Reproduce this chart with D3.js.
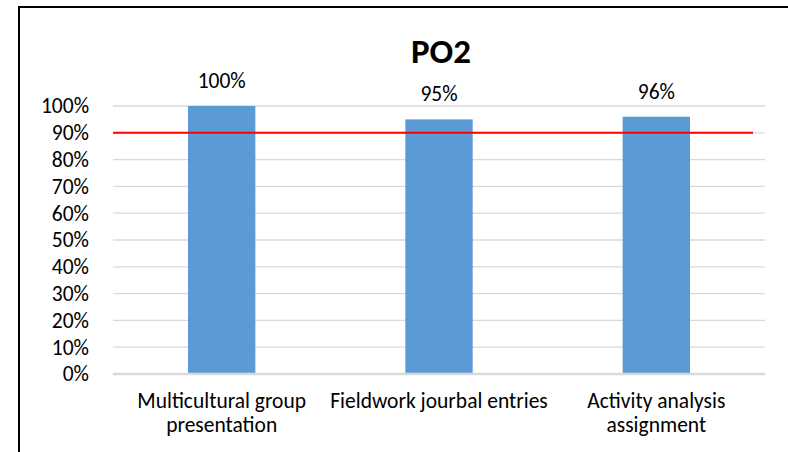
<!DOCTYPE html>
<html>
<head>
<meta charset="utf-8">
<script src="https://cdn.jsdelivr.net/npm/d3@7"></script>
<style>
  body { margin: 0; background: #fff; }
  text { font-family: Calibri, Carlito, Lato, "Open Sans", sans-serif; fill: #000; }
</style>
</head>
<body>
<script>
// Chart data
var categories = ["Multicultural group presentation", "Fieldwork jourbal entries", "Activity analysis assignment"];
var values = [1.00, 0.95, 0.96];
var yTicks = [0, 0.1, 0.2, 0.3, 0.4, 0.5, 0.6, 0.7, 0.8, 0.9, 1.0];
var targetValue = [0.9];
var chartTitle = "PO2";

// SVG area
var svgWidth = 788;
var svgHeight = 452;

var margin = {
  top: 106,
  right: 23,
  bottom: 78,
  left: 113
};

var chartWidth = svgWidth - margin.left - margin.right;
var chartHeight = svgHeight - margin.top - margin.bottom;
var fontSize = 21.5;

var svg = d3.select("body")
  .append("svg")
  .attr("width", svgWidth)
  .attr("height", svgHeight);

// Outer frame (the chart is cropped on the right and bottom)
svg.append("rect")
  .attr("x", 19)
  .attr("y", 7)
  .attr("width", 820)
  .attr("height", 520)
  .attr("fill", "none")
  .attr("stroke", "#000")
  .attr("stroke-width", 2);

var chartGroup = svg.append("g")
  .attr("transform", `translate(${margin.left}, ${margin.top})`);

// Scales
var xBandScale = d3.scaleBand()
  .domain(categories)
  .range([0, chartWidth])
  .paddingInner(0.69)
  .paddingOuter(0.345);

var yLinearScale = d3.scaleLinear()
  .domain([0, 1])
  .range([chartHeight, 0]);

// Gridlines
chartGroup.append("g")
  .selectAll("line")
  .data(yTicks.filter(d => d > 0))
  .enter()
  .append("line")
  .attr("x1", 0)
  .attr("x2", chartWidth)
  .attr("y1", d => yLinearScale(d))
  .attr("y2", d => yLinearScale(d))
  .attr("stroke", "#d9d9d9")
  .attr("stroke-width", 1.3);

// Left axis: labels only
var leftAxis = d3.axisLeft(yLinearScale)
  .tickValues(yTicks)
  .tickFormat(d3.format(".0%"))
  .tickSize(0)
  .tickPadding(24);

var yAxisGroup = chartGroup.append("g").call(leftAxis);
yAxisGroup.select(".domain").remove();
yAxisGroup.selectAll("text")
  .attr("font-size", fontSize)
  .attr("font-family", null);

// Bars
chartGroup.selectAll(".bar")
  .data(values)
  .enter()
  .append("rect")
  .attr("class", "bar")
  .attr("x", (d, i) => xBandScale(categories[i]))
  .attr("width", xBandScale.bandwidth())
  .attr("y", d => yLinearScale(d))
  .attr("height", d => chartHeight - yLinearScale(d))
  .attr("fill", "#5b9bd5");

// Bottom axis line
chartGroup.append("line")
  .attr("x1", 0)
  .attr("x2", chartWidth)
  .attr("y1", yLinearScale(0))
  .attr("y2", yLinearScale(0))
  .attr("stroke", "#d9d9d9")
  .attr("stroke-width", 2.5);

// Target line at 90%
chartGroup.selectAll(".target")
  .data(targetValue)
  .enter()
  .append("line")
  .attr("class", "target")
  .attr("x1", 0)
  .attr("x2", chartWidth - 12)
  .attr("y1", d => yLinearScale(d))
  .attr("y2", d => yLinearScale(d))
  .attr("stroke", "#ff0000")
  .attr("stroke-width", 2);

// Data labels
chartGroup.selectAll(".value-label")
  .data(values)
  .enter()
  .append("text")
  .attr("class", "value-label")
  .attr("x", (d, i) => xBandScale(categories[i]) + xBandScale.bandwidth() / 2)
  .attr("y", d => yLinearScale(d) - 18)
  .attr("text-anchor", "middle")
  .attr("font-size", fontSize)
  .text(d => d3.format(".0%")(d));

// Category labels, wrapped a little wider than the band step
var wrapWidth = xBandScale.step() * 1.1;
var catGroup = chartGroup.selectAll(".cat-label")
  .data(categories)
  .enter()
  .append("text")
  .attr("class", "cat-label")
  .attr("x", d => xBandScale(d) + xBandScale.bandwidth() / 2)
  .attr("y", chartHeight + 34)
  .attr("text-anchor", "middle")
  .attr("font-size", fontSize);

catGroup.each(function(d) {
  var text = d3.select(this);
  var words = d.split(" ");
  var line = [];
  var x = text.attr("x");
  var tspan = text.append("tspan").attr("x", x).attr("dy", 0);
  words.forEach(function(w) {
    line.push(w);
    tspan.text(line.join(" "));
    if (tspan.node().getComputedTextLength() > wrapWidth && line.length > 1) {
      line.pop();
      tspan.text(line.join(" "));
      line = [w];
      tspan = text.append("tspan").attr("x", x).attr("dy", 24).text(w);
    }
  });
});

// Title
svg.append("text")
  .attr("x", margin.left + chartWidth / 2 + 2)
  .attr("y", 63)
  .attr("text-anchor", "middle")
  .attr("font-size", 35)
  .attr("font-weight", "bold")
  .text(chartTitle);
</script>
</body>
</html>
